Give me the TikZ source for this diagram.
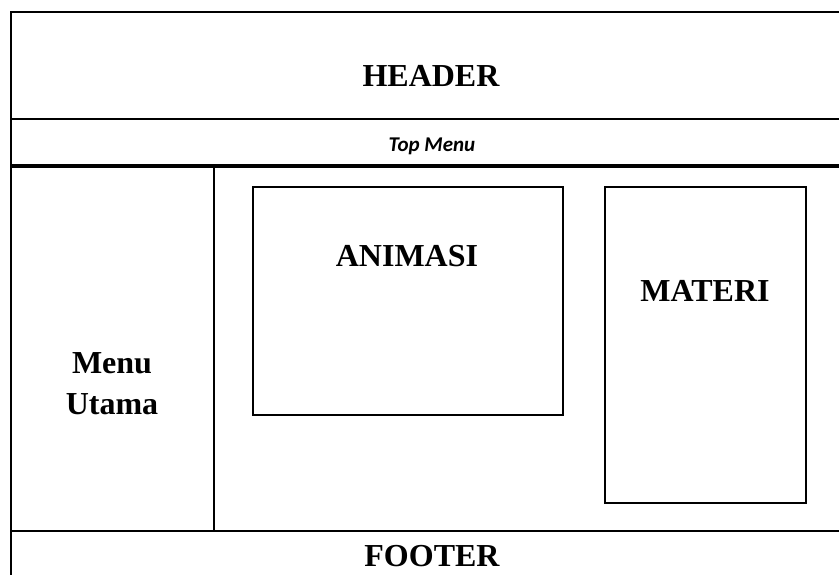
\documentclass[tikz,border=0pt]{standalone}
\usepackage{fontspec}
\setmainfont{Liberation Serif}
\newfontfamily\menufont{Carlito}
\begin{document}
\begin{tikzpicture}[x=1pt,y=-1pt,
  thin line/.style={line width=1.6pt,black},
  thick line/.style={line width=3.2pt,black},
  box/.style={line width=1.6pt,draw=black},
  bigfont/.style={font=\fontsize{32}{41}\selectfont\bfseries,inner sep=0pt},
  bigtext/.style={bigfont,align=center},
  menutext/.style={font=\fontsize{21}{24}\selectfont\menufont\bfseries\itshape,inner sep=0pt}]
\useasboundingbox (0,0) rectangle (839,574);
\clip (0,0) rectangle (839,574);
\fill[white] (0,0) rectangle (839,574);
% outer frame
\draw[thin line] (11,590) -- (11,12) -- (850,12);
\draw[thin line] (11,119) -- (850,119);
\draw[thick line] (11,166) -- (850,166);
\draw[thin line] (214,166) -- (214,531);
\draw[thin line] (11,531) -- (850,531);
% inner boxes
\draw[box] (253,187) rectangle (563,415);
\draw[box] (605,187) rectangle (806,503);
% texts
\node[bigtext] (header) at (431,76) {HEADER};
\node[menutext] (topmenu) at (432,146) {Top Menu};
\node[bigtext] (animasi) at (407,256) {ANIMASI};
\node[bigtext] (materi) at (705,291) {MATERI};
\node[bigtext] (menu) at (112,384) {Menu\\Utama};
\node[bigfont,anchor=base] (footer) at (432,566) {FOOTER};
\end{tikzpicture}
\end{document}
